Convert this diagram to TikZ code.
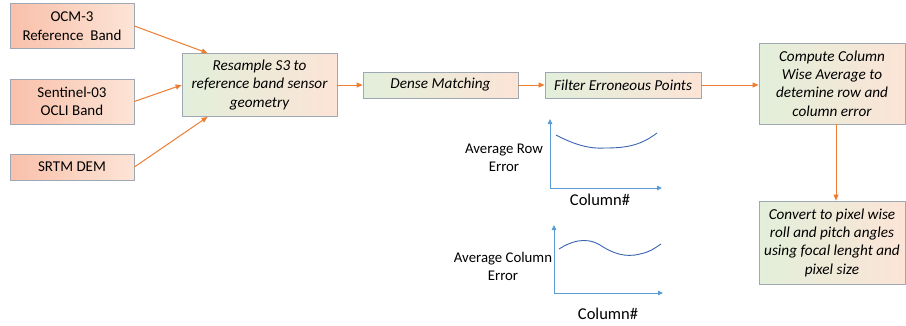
\documentclass[tikz,border=0pt]{standalone}
\usepackage{fontspec}
\setmainfont{Carlito}
\usetikzlibrary{arrows.meta}
\definecolor{arr}{HTML}{ED7D31}
\definecolor{bord}{HTML}{9EA8B4}
\definecolor{grn}{HTML}{E2EFDA}
\definecolor{sal}{HTML}{F9B9A4}
\definecolor{peach}{HTML}{FCE4D6}
\definecolor{sal2}{HTML}{F9C0AA}
\definecolor{axisblue}{HTML}{5B9BD5}
\definecolor{curveblue}{HTML}{3A64AE}
\tikzset{
  inbox/.style={draw=bord, line width=0.8pt, left color=sal2, right color=peach, align=center, inner sep=0pt, font=\fontsize{15}{18.5}\selectfont},
  procbox/.style={draw=bord, line width=0.8pt, left color=grn, middle color=sal, right color=peach, align=center, inner sep=0pt, font=\fontsize{15.2}{18.3}\selectfont\itshape},
  flow/.style={draw=arr, line width=1pt, -{Triangle[length=6pt,width=5pt]}},
  axisline/.style={draw=axisblue, line width=0.9pt, -{Triangle[length=5pt,width=4.5pt]}},
  curve/.style={draw=curveblue, line width=0.9pt},
  lbl/.style={align=center, inner sep=0pt, font=\fontsize{14.8}{18}\selectfont},
  axlbl/.style={inner sep=0pt, font=\fontsize{16.5}{18}\selectfont},
}
\begin{document}
\begin{tikzpicture}[x=1pt,y=-1pt]
\useasboundingbox (0,0) rectangle (906,325);
% input boxes
\node[inbox, minimum width=124pt, minimum height=45pt] (ocm) at (72,26) {OCM-3\\Reference~~Band};
\node[inbox, minimum width=124pt, minimum height=45pt] (sen) at (72,101.5) {Sentinel-03\\OCLI Band};
\node[inbox, minimum width=124pt, minimum height=26pt] (srtm) at (72,167) {SRTM DEM};
% process boxes
\node[procbox, minimum width=155pt, minimum height=63pt] (res) at (259.5,85) {Resample S3 to\\reference band sensor\\geometry};
\node[procbox, minimum width=155pt, minimum height=26pt] (dense) at (440.5,85) {Dense Matching};
\node[procbox, minimum width=156pt, minimum height=26pt] (filt) at (623,85) {Filter Erroneous Points};
\node[procbox, minimum width=146pt, minimum height=81pt] (comp) at (832,83.5) {Compute Column\\Wise Average to\\detemine row and\\column error};
\node[procbox, minimum width=146pt, minimum height=83pt] (conv) at (832,242.5) {Convert to pixel wise\\roll and pitch angles\\using focal lenght and\\pixel size};
% connectors
\draw[flow] (ocm.east) -- ([xshift=26pt]res.north west);
\draw[flow] (sen.east) -- (res.west);
\draw[flow] (srtm.east) -- ([xshift=26pt]res.south west);
\draw[flow] (res.east) -- (dense.west);
\draw[flow] (dense.east) -- (filt.west);
\draw[flow] (filt.east) -- (comp.west |- filt.east);
\draw[flow] ([xshift=4pt]comp.south) -- ([xshift=4pt]conv.north);
% chart 1
\coordinate (o1) at (550,188);
\coordinate (y1) at (550,119);
\coordinate (x1) at (662,188);
\draw[axisline] (o1) -- (y1);
\draw[axisline] (o1) -- (x1);
\draw[curve] (556,135) .. controls (575,145) and (590,149) .. (605,148) .. controls (625,148) and (640,146) .. (657,133);
\node[lbl] (l1) at (504,158) {Average Row\\Error};
\node[axlbl] (c1) at (600,200) {Column\#};
% chart 2
\coordinate (o2) at (554,293);
\coordinate (y2) at (554,225);
\coordinate (x2) at (663,293);
\draw[axisline] (o2) -- (y2);
\draw[axisline] (o2) -- (x2);
\draw[curve] (559,249) .. controls (570,242) and (585,236) .. (600,245) .. controls (612,253) and (625,258) .. (640,254) .. controls (650,252) and (655,248) .. (661,244);
\node[lbl] (l2) at (503,266) {Average Column\\Error};
\node[axlbl] (c2) at (608,314) {Column\#};
\end{tikzpicture}
\end{document}
